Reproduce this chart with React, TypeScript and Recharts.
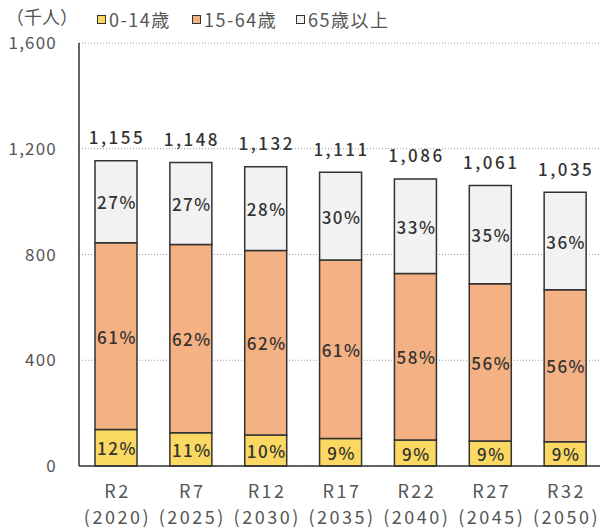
import React from 'react';
import {
  BarChart,
  Bar,
  XAxis,
  YAxis,
  CartesianGrid,
  LabelList,
} from 'recharts';

// 年次
const years = ['R2', 'R7', 'R12', 'R17', 'R22', 'R27', 'R32'];
const seireki = ['2020', '2025', '2030', '2035', '2040', '2045', '2050'];

// 人口（千人）
const young = [138, 126, 117, 104, 98, 95, 92];
const working = [706, 712, 698, 675, 630, 594, 575];
const elderly = [311, 310, 317, 332, 358, 372, 368];
const totals = [1155, 1148, 1132, 1111, 1086, 1061, 1035];

// 構成比（%）
const youngPct = [12, 11, 10, 9, 9, 9, 9];
const workingPct = [61, 62, 62, 61, 58, 56, 56];
const elderlyPct = [27, 27, 28, 30, 33, 35, 36];

const yTicks = [0, 400, 800, 1200, 1600];

const FONT = '"Noto Sans CJK JP", "Noto Sans", sans-serif';
const COLORS = { young: '#FAD862', working: '#F4B183', elderly: '#F2F2F2' };

const data = years.map((y, i) => ({
  name: y,
  year: seireki[i],
  young: young[i],
  working: working[i],
  elderly: elderly[i],
  total: totals[i],
  youngPct: youngPct[i],
  workingPct: workingPct[i],
  elderlyPct: elderlyPct[i],
}));

const PctLabel = (props: any) => {
  const { x, y, width, height, value } = props;
  return (
    <text
      x={x + width / 2 + 1}
      y={y + height / 2}
      textAnchor="middle"
      dominantBaseline="central"
      fill="#333"
      fontSize={17}
      fontWeight={500}
      letterSpacing={1.5}
      fontFamily={FONT}
    >
      {value}%
    </text>
  );
};

const TotalLabel = (props: any) => {
  const { x, y, width, value } = props;
  return (
    <text
      x={x + width / 2 + 1}
      y={y - 24}
      textAnchor="middle"
      dominantBaseline="central"
      fill="#333"
      fontSize={17}
      fontWeight={500}
      letterSpacing={2.5}
      fontFamily={FONT}
    >
      {value.toLocaleString('en-US')}
    </text>
  );
};

const XTick = (props: any) => {
  const { x, y, payload, index } = props;
  return (
    <g fill="#555" fontSize={18} fontFamily={FONT} letterSpacing={2.5}>
      <text x={x + 1} y={y + 16} textAnchor="middle" dominantBaseline="central">
        {payload.value}
      </text>
      <text x={x + 1} y={y + 42} textAnchor="middle" dominantBaseline="central">
        ({seireki[index]})
      </text>
    </g>
  );
};

const legendItems = [
  { label: '0-14歳', color: COLORS.young, left: 97 },
  { label: '15-64歳', color: COLORS.working, left: 192 },
  { label: '65歳以上', color: COLORS.elderly, left: 296 },
];

const LegendBox = () => (
  <div style={{ position: 'absolute', left: 0, top: 0, width: 600, height: 34, fontFamily: FONT, color: '#555', fontSize: 18, letterSpacing: 1.5 }}>
    <span style={{ position: 'absolute', left: 6, top: 3, fontSize: 18, letterSpacing: 0 }}>（千人）</span>
    {legendItems.map((it) => (
      <span key={it.label} style={{ position: 'absolute', left: it.left, top: 3, whiteSpace: 'nowrap' }}>
        <span
          style={{
            display: 'inline-block',
            width: 7,
            height: 7,
            background: it.color,
            border: '1.5px solid #333',
            marginRight: 3,
            verticalAlign: 'middle',
          }}
        />
        <span style={{ verticalAlign: 'middle' }}>{it.label}</span>
      </span>
    ))}
  </div>
);

export default function App() {
  return (
    <div style={{ position: 'absolute', left: 0, top: 0, width: 600, height: 530, overflow: 'hidden', background: '#fff' }}>
      <BarChart
        width={604}
        height={530}
        data={data}
        margin={{ top: 43, right: 1, left: 0, bottom: 4 }}
        barSize={42}
      >
        <CartesianGrid vertical={false} stroke="#999" strokeDasharray="1 2" />
        <XAxis
          dataKey="name"
          tick={<XTick />}
          tickLine={false}
          axisLine={{ stroke: '#333', strokeWidth: 1.5 }}
          height={60}
          interval={0}
        />
        <YAxis
          width={79}
          domain={[0, 1600]}
          ticks={yTicks}
          tickFormatter={(v: number) => v.toLocaleString('en-US')}
          tick={{ fill: '#555', fontSize: 17, fontFamily: FONT, letterSpacing: 1.2 }}
          tickLine={false}
          tickSize={0}
          tickMargin={22}
          axisLine={{ stroke: '#333', strokeWidth: 1.5 }}
        />
        <Bar dataKey="young" stackId="a" fill={COLORS.young} stroke="#333" strokeWidth={1.5} isAnimationActive={false}>
          <LabelList dataKey="youngPct" content={<PctLabel />} />
        </Bar>
        <Bar dataKey="working" stackId="a" fill={COLORS.working} stroke="#333" strokeWidth={1.5} isAnimationActive={false}>
          <LabelList dataKey="workingPct" content={<PctLabel />} />
        </Bar>
        <Bar dataKey="elderly" stackId="a" fill={COLORS.elderly} stroke="#333" strokeWidth={1.5} isAnimationActive={false}>
          <LabelList dataKey="elderlyPct" content={<PctLabel />} />
          <LabelList dataKey="total" content={<TotalLabel />} />
        </Bar>
      </BarChart>
      <LegendBox />
    </div>
  );
}
